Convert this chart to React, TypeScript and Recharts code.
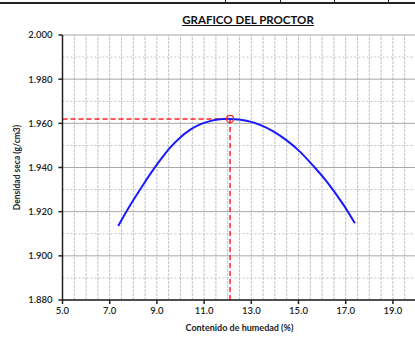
import { LineChart, Line, XAxis, YAxis, ReferenceLine, ReferenceDot, Label } from "recharts";

// humedad (%) vs densidad seca (g/cm3)
const humedad = [7.36, 7.86, 8.42, 8.78, 9.13, 9.56, 9.98, 10.4, 10.83, 11.25, 11.67, 12.1, 12.8, 13.37, 13.93, 14.5, 15.06, 15.63, 16.19, 16.9, 17.39];
const densidad = [1.9135, 1.9228, 1.9322, 1.938, 1.9432, 1.949, 1.9535, 1.957, 1.9595, 1.961, 1.9618, 1.962, 1.9612, 1.9593, 1.9564, 1.9523, 1.9472, 1.9407, 1.9337, 1.9232, 1.9147];

const xTicks = [5, 7, 9, 11, 13, 15, 17, 19];
const yTicks = [1.88, 1.9, 1.92, 1.94, 1.96, 1.98, 2.0];
const yMinor = [1.89, 1.91, 1.93, 1.95, 1.97, 1.99];
const xGrid = [5.5, 6, 6.5, 7, 7.5, 8, 8.5, 9, 9.5, 10, 10.5, 11, 11.5, 12, 12.5, 13, 13.5, 14, 14.5, 15, 15.5, 16, 16.5, 17, 17.5, 18, 18.5, 19, 19.5, 20];

const humedadOptima = 12.1;
const densidadMaxima = 1.962;

const data = humedad.map((h, i) => ({ x: h, y: densidad[i] }));

const FONT = "Lato, 'Liberation Sans', sans-serif";
const tickStyle = { fontSize: 9.5, fill: "#222", fontFamily: FONT, fontWeight: 600 };

export default function App() {
  return (
    <div style={{ position: "absolute", left: 0, top: 0, width: 415, height: 338, overflow: "hidden", background: "#fff" }}>
      {/* borde de la tabla superior */}
      <div style={{ position: "absolute", left: 0, top: 0, width: 415, height: 2, borderBottom: "2px solid #222" }} />
      {[225, 280, 334, 388].map((x) => (
        <div key={x} style={{ position: "absolute", left: x, top: 0, width: 1, height: 3, background: "#222" }} />
      ))}
      <div
        style={{
          position: "absolute",
          left: 178,
          top: 13,
          width: 140,
          textAlign: "center",
          fontFamily: FONT,
          fontWeight: 700,
          fontSize: 11.5,
          color: "#111",
          textDecoration: "underline",
        }}
      >
        GRAFICO DEL PROCTOR
      </div>
      <LineChart width={420} height={338} data={data} margin={{ top: 35, right: 3.5, bottom: 8, left: 0 }}>
        {xGrid.map((g) => (
          <ReferenceLine key={"vx" + g} x={g} stroke="#c2c2c2" strokeDasharray="3 1" strokeWidth={1} />
        ))}
        {yMinor.map((g) => (
          <ReferenceLine key={"my" + g} y={g} stroke="#c4c4c4" strokeDasharray="2 2" strokeWidth={1} />
        ))}
        {yTicks.map((g) => (
          <ReferenceLine key={"gy" + g} y={g} stroke="#a8a8a8" strokeWidth={1} />
        ))}
        <XAxis
          type="number"
          dataKey="x"
          height={30}
          domain={[5, 20]}
          ticks={xTicks}
          allowDataOverflow
          tickFormatter={(v: number) => v.toFixed(1)}
          tick={tickStyle}
          tickSize={4}
          tickMargin={3}
          stroke="#222"
          strokeWidth={1.5}
        >
          <Label value="Contenido de humedad (%)" position="bottom" offset={-5} style={{ fontSize: 9, fontFamily: FONT, fontWeight: 700, fill: "#222" }} />
        </XAxis>
        <YAxis
          type="number"
          dataKey="y"
          width={62.5}
          domain={[1.88, 2.0]}
          ticks={yTicks}
          allowDataOverflow
          tickFormatter={(v: number) => v.toFixed(3)}
          tick={tickStyle}
          tickSize={4}
          tickMargin={6}
          stroke="#222"
          strokeWidth={1.5}
        >
          <Label
            value="Densidad seca (g/cm3)"
            angle={-90}
            position="insideLeft"
            offset={17}
            style={{ fontSize: 8.5, fontFamily: FONT, fontWeight: 700, fill: "#222", textAnchor: "middle" }}
          />
        </YAxis>
        <ReferenceLine
          segment={[{ x: 5, y: densidadMaxima }, { x: humedadOptima, y: densidadMaxima }]}
          stroke="#ff2020"
          strokeWidth={1.5}
          strokeDasharray="5 3"
        />
        <ReferenceLine
          segment={[{ x: humedadOptima, y: 1.88 }, { x: humedadOptima, y: densidadMaxima }]}
          stroke="#ff2020"
          strokeWidth={1.5}
          strokeDasharray="5 3"
        />
        <Line type="natural" dataKey="y" stroke="#1a1aff" strokeWidth={2} dot={false} isAnimationActive={false} />
        <ReferenceDot x={humedadOptima} y={densidadMaxima} r={3.5} fill="#fff" fillOpacity={0} stroke="#e03030" strokeWidth={1.2} />
      </LineChart>
    </div>
  );
}
